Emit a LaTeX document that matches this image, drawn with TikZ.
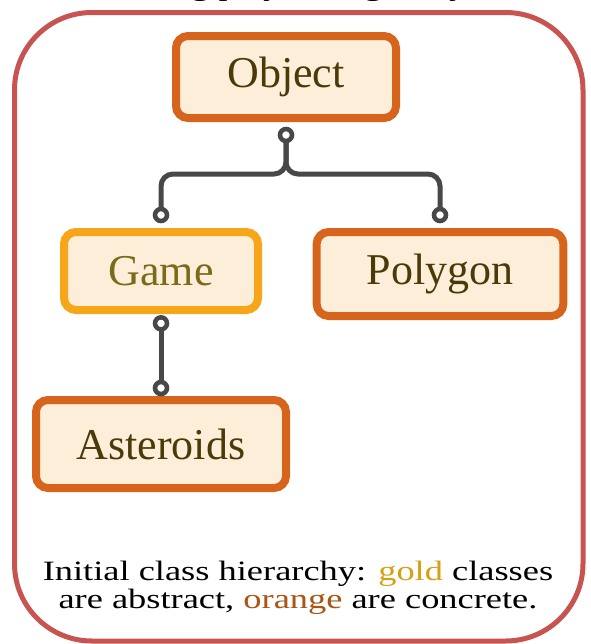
\documentclass[tikz,border=0pt]{standalone}
\usepackage{fontspec}
\setmainfont{Liberation Serif}
\newfontfamily\capfont[FakeStretch=1.3]{Liberation Serif}

\definecolor{frameRed}{HTML}{C75450}
\definecolor{clsFill}{HTML}{FDEEDA}
\definecolor{concreteEdge}{HTML}{D6641C}
\definecolor{abstractEdge}{HTML}{F7A619}
\definecolor{concreteText}{HTML}{4B3A08}
\definecolor{abstractText}{HTML}{7A6A1A}
\definecolor{linkGray}{HTML}{484848}
\definecolor{goldWord}{HTML}{D6A014}
\definecolor{orangeWord}{HTML}{AA5514}

\tikzset{
  cls/.style={draw, line width=6pt, rounded corners=9pt, fill=clsFill,
    text=concreteText, inner sep=0pt, font=\fontsize{33}{36}\selectfont},
  concrete/.style={cls, draw=concreteEdge},
  abstract/.style={cls, draw=abstractEdge, text=abstractText},
  link/.style={draw=linkGray, line width=3.75pt, rounded corners=9pt},
  knob/.style={circle, draw=linkGray, fill=white, line width=3.4pt,
    inner sep=0pt, minimum size=9pt},
  frame/.style={draw=frameRed, line width=3.75pt, rounded corners=58pt},
}

\begin{document}
\begin{tikzpicture}[x=0.75pt,y=-0.75pt]
\useasboundingbox (0,0) rectangle (591,644);
\fill[white] (0,0) rectangle (591,644);

% heading line, mostly above the page edge
\node[anchor=base west, inner sep=0pt, font=\capfont\fontsize{21}{25}\selectfont]
  (heading) at (100,-5) {Adding play with gravity};

% outer frame
\draw[frame] (14.5,12.5) rectangle (583,641);

% classes
\node[concrete, minimum width=165pt, minimum height=61.5pt] (obj) at (286,77) {Object};
\node[abstract, minimum width=145.5pt, minimum height=58.5pt] (game) at (161,271) {Game};
\node[concrete, minimum width=185pt, minimum height=63pt] (poly) at (440,274) {Polygon};
\node[concrete, minimum width=187.5pt, minimum height=66pt] (ast) at (161,444) {Asteroids};

% attachment points
\coordinate (objK)  at ([yshift=-9.75pt]obj.south);
\coordinate (gameK) at ([yshift=9.75pt]game.north);
\coordinate (polyK) at (poly.north |- gameK);
\coordinate (gameB) at ([yshift=-7pt]game.south);
\coordinate (astK)  at ([yshift=6pt]ast.north);
\coordinate (bar)   at (0,174);

% inheritance links
\draw[link] (objK) -- (objK |- bar) -- (gameK |- bar) -- (gameK);
\draw[link] (objK) -- (objK |- bar) -- (polyK |- bar) -- (polyK);
\draw[link] (gameB) -- (astK);

\node[knob] (k1) at (objK) {};
\node[knob] (k2) at (gameK) {};
\node[knob] (k3) at (polyK) {};
\node[knob] (k4) at (gameB) {};
\node[knob] (k5) at (astK) {};

% caption
\node[align=center, inner sep=0pt, font=\capfont\fontsize{21}{21}\selectfont]
  (caption) at (298,588)
  {Initial class hierarchy: \textcolor{goldWord}{gold} classes\\
   are abstract, \textcolor{orangeWord}{orange} are concrete.};
\end{tikzpicture}
\end{document}
